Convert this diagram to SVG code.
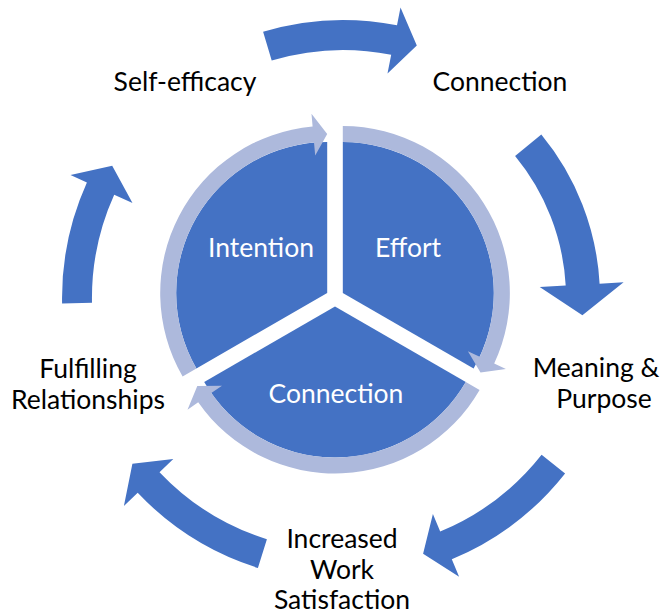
<svg xmlns="http://www.w3.org/2000/svg" width="662" height="614" viewBox="0 0 662 614">
<style>
.pie{fill:#4472C4}
.ring{fill:#ADB9DC}
.arr{fill:#4472C4}
.lbl{font-family:Lato,"Liberation Sans",sans-serif;font-size:26.5px;fill:#000;text-anchor:middle}
.in{font-family:Lato,"Liberation Sans",sans-serif;font-size:26.5px;fill:#fff;text-anchor:middle}
</style>
<rect width="662" height="614" fill="#fff"/>
<g id="seg-intention">
<path class="pie" d="M327.2,293 L196.4,368.5 A151,151 0 0 1 327.2,142 Z"/>
<path class="ring" d="M182.6,376.5 A167,167 0 0 1 312.6,126.6 L311.5,113.7 L327.2,134 L315.2,155.5 L314,142.6 A151,151 0 0 0 196.4,368.5 Z"/>
<text class="in" x="261" y="257">Intention</text>
</g>
<g id="seg-effort">
<path class="pie" d="M342.8,293 L342.8,142 A151,151 0 0 1 473.6,368.5 Z"/>
<path class="ring" d="M342.8,126 A167,167 0 0 1 494.2,363.6 L505.9,369.1 L480.5,372.5 L467.9,351.3 L479.7,356.8 A151,151 0 0 0 342.8,142 Z"/>
<text class="in" x="408" y="257">Effort</text>
</g>
<g id="seg-connection">
<path class="pie" d="M335,306.5 L465.8,382 A151,151 0 0 1 204.2,382 Z"/>
<path class="ring" d="M479.6,390 A167,167 0 0 1 198.2,402.3 L187.5,409.7 L197.3,386 L222,385.7 L211.3,393.1 A151,151 0 0 0 465.8,382 Z"/>
<text class="in" x="336" y="403">Connection</text>
</g>
<g id="node-self-efficacy"><text class="lbl" x="185" y="91">Self-efficacy</text></g>
<g id="node-connection"><text class="lbl" x="500" y="91">Connection</text></g>
<g id="node-meaning"><text class="lbl" x="596" y="377">Meaning &amp;</text><text class="lbl" x="604" y="408">Purpose</text></g>
<g id="node-increased"><text class="lbl" x="342" y="548">Increased</text><text class="lbl" x="342" y="579">Work</text><text class="lbl" x="342" y="609">Satisfaction</text></g>
<g id="node-fulfilling"><text class="lbl" x="88" y="378">Fulfilling</text><text class="lbl" x="88" y="409">Relationships</text></g>
<g id="connectors">
<path class="arr" d="M263.1,31.7 A278,278 0 0 1 397,25.3 L400.5,7.6 L416.8,45.6 L387.5,73.4 L391.2,54.7 A248,248 0 0 0 271.7,60.5 Z"/>
<path class="arr" d="M541.3,134.5 A257,257 0 0 1 599.6,283.7 L623.6,282.3 L582.4,315.2 L539.7,287 L565.7,285.6 A223,223 0 0 0 515.1,156.1 Z"/>
<path class="arr" d="M565.1,473.4 A283,283 0 0 1 451.8,559.3 L459.1,576.8 L423.1,553.7 L432.9,514 L440.2,531.6 A253,253 0 0 0 541.6,454.8 Z"/>
<path class="arr" d="M257.9,567.9 A283,283 0 0 1 137.7,492.8 L123.9,505.9 L132.4,463.7 L173.3,459.1 L159.5,472.2 A253,253 0 0 0 266.9,539.3 Z"/>
<path class="arr" d="M62.1,303.4 A281,281 0 0 1 86.9,182.4 L70.5,175 L112.2,165.8 L132.5,202.9 L114.2,194.7 A251,251 0 0 0 92,302.8 Z"/>
</g>
</svg>
